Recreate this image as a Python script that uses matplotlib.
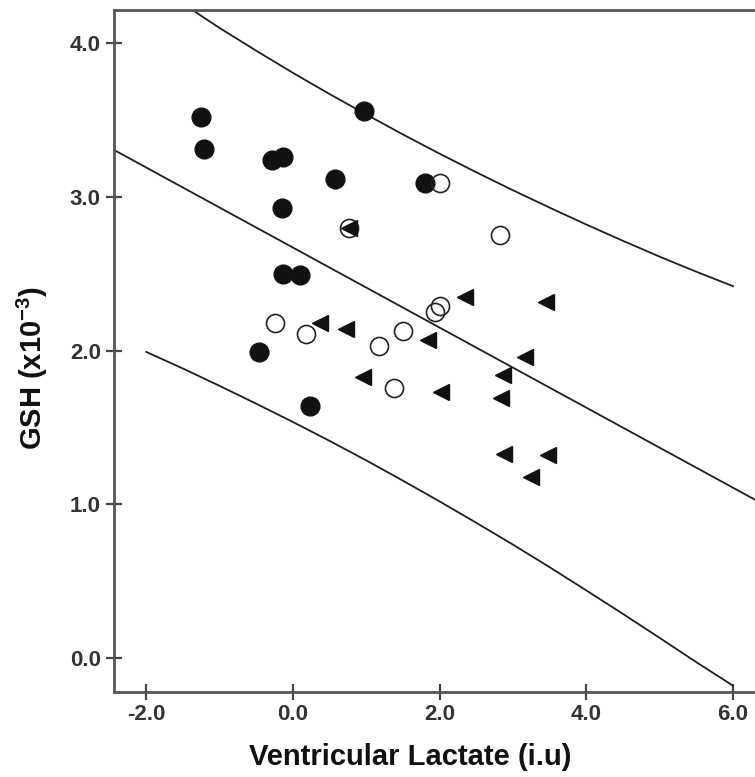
import numpy as np
import matplotlib
matplotlib.use("Agg")
import matplotlib.pyplot as plt

plt.rcParams["font.family"] = ["Liberation Sans", "DejaVu Sans"]
plt.rcParams["mathtext.fontset"] = "custom"
plt.rcParams["mathtext.rm"] = "Liberation Sans:bold"
plt.rcParams["mathtext.bf"] = "Liberation Sans:bold"

## data
# filled circles
filled_x = [-1.26, -1.21, -0.29, -0.13, 0.58, -0.15, 0.97, -0.13, 0.09, -0.46, 0.23, 1.80]
filled_y = [3.52, 3.31, 3.24, 3.26, 3.12, 2.93, 3.56, 2.50, 2.49, 1.99, 1.64, 3.09]
# open circles
open_x = [2.00, 2.82, 0.77, -0.25, 0.18, 1.18, 1.50, 1.38, 1.94, 2.01]
open_y = [3.09, 2.75, 2.80, 2.18, 2.11, 2.03, 2.13, 1.76, 2.25, 2.29]
# triangles
tri_x = [0.77, 0.37, 0.73, 0.96, 1.84, 2.35, 3.45, 3.16, 2.86, 2.84, 2.02, 2.88, 3.48, 3.25]
tri_y = [2.80, 2.18, 2.14, 1.83, 2.07, 2.35, 2.32, 1.96, 1.84, 1.69, 1.73, 1.33, 1.32, 1.18]

# fit line and prediction band
band_x = [-2.0, -1.5, -1.0, -0.5, 0.0, 0.5, 1.0, 1.5, 2.0,
          2.5, 3.0, 3.5, 4.0, 4.5, 5.0, 5.5, 6.0]
band_mid = [3.192, 3.062, 2.931, 2.801, 2.671, 2.541, 2.411, 2.280, 2.150,
            2.020, 1.890, 1.760, 1.629, 1.499, 1.369, 1.239, 1.108]
band_upper = [4.410, 4.258, 4.100, 3.952, 3.808, 3.670, 3.537, 3.407, 3.282,
              3.161, 3.044, 2.931, 2.821, 2.715, 2.612, 2.514, 2.420]
band_lower = [1.992, 1.884, 1.771, 1.655, 1.536, 1.413, 1.286, 1.154, 1.019,
              0.880, 0.738, 0.591, 0.440, 0.287, 0.131, -0.027, -0.180]

xticks = [-2.0, 0.0, 2.0, 4.0, 6.0]
yticks = [0.0, 1.0, 2.0, 3.0, 4.0]

## PLOT
fig = plt.figure(figsize=(7.55, 7.77), dpi=100)
ax = fig.add_axes([0.151, 0.1098, 0.849, 0.8773])

linecol = "#1e1e1e"
slope, icept = np.polyfit(band_x, band_mid, 1)
ax.axline((0, icept), slope=slope, color=linecol, lw=1.3, zorder=2)
ax.plot(band_x, band_upper, color=linecol, lw=1.3, zorder=2)
ax.plot(band_x, band_lower, color=linecol, lw=1.3, zorder=2)

ax.plot(filled_x, filled_y, "o", ms=13.5, color="#111111", mec="#111111", zorder=3)
ax.plot(open_x, open_y, "o", ms=13, mfc="none", mec="#222222", mew=1.2, zorder=4)
ax.plot(tri_x, tri_y, "<", ms=11, color="#111111", zorder=5)

ax.set_xlim(-2.44, 6.30)
ax.set_ylim(-0.219, 4.217)

ax.set_xticks(xticks)
ax.set_xticklabels(["{:.1f}".format(v) for v in xticks])
ax.set_yticks(yticks)
ax.set_yticklabels(["{:.1f}".format(v) for v in yticks])

spinecol = "#555555"
for s in ["left", "bottom", "top"]:
    ax.spines[s].set_color(spinecol)
    ax.spines[s].set_linewidth(2.0)
ax.spines["right"].set_visible(False)

ax.tick_params(axis="x", direction="inout", length=12, width=1.6, color="#444444",
               labelsize=16, pad=3, labelcolor="#333333")
ax.tick_params(axis="y", direction="inout", length=11, width=1.6, color="#444444",
               labelsize=16, pad=4, labelcolor="#333333")
for lab in ax.get_xticklabels() + ax.get_yticklabels():
    lab.set_fontweight("bold")

ax.set_xlabel("Ventricular Lactate (i.u)", fontsize=21, fontweight="bold",
              color="#111111", va="baseline")
ax.xaxis.set_label_coords(0.462, -0.1075)
ax.set_ylabel(r"GSH (x10$^{\mathbf{-3}}$)", fontsize=21, fontweight="bold",
              color="#111111", va="baseline")
ax.yaxis.set_label_coords(-0.112, 0.475)

plt.savefig("out.png", dpi=100)
plt.close(fig)
